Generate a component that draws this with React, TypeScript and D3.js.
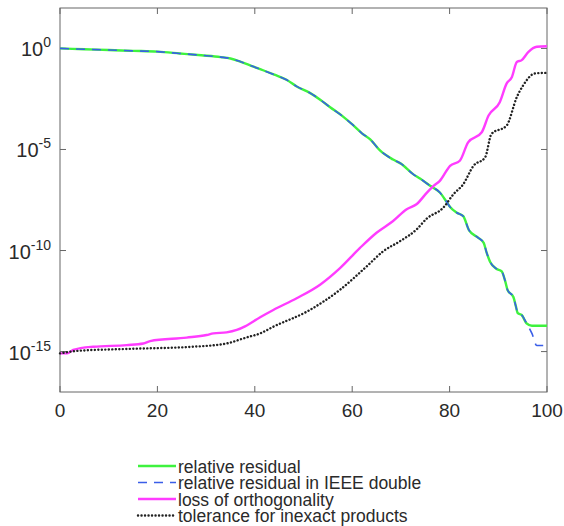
import React from 'react';
import * as d3 from 'd3';

// iteration numbers and log10 of each quantity
const residualX = [0, 5, 10, 15, 20, 24.6, 29, 33, 35, 37, 39.7, 41.7, 44, 46.5, 48.6, 51.3, 53.5, 55.4, 58, 60.2, 62, 63.7, 65.7, 68.4, 70, 72.5, 74, 76, 78, 79.4, 80.1, 81.5, 82.8, 84, 85.9, 87, 87.6, 88.3, 89.6, 90.7, 91.4, 91.9, 93.1, 93.6, 94, 94.8, 95.8, 96.9, 100];
const residualExp = [0, -0.04, -0.08, -0.12, -0.16, -0.25, -0.34, -0.43, -0.5, -0.65, -0.9, -1.08, -1.3, -1.55, -1.88, -2.2, -2.55, -2.9, -3.35, -3.8, -4.2, -4.5, -5.05, -5.5, -5.7, -6.22, -6.45, -6.8, -7.13, -7.6, -7.85, -8.13, -8.3, -9.0, -9.37, -9.62, -10.1, -10.55, -10.9, -11.03, -11.5, -11.95, -12.3, -12.75, -13.1, -13.19, -13.6, -13.72, -13.72];

const ieeeX = [0, 5, 10, 15, 20, 24.6, 29, 33, 35, 37, 39.7, 41.7, 44, 46.5, 48.6, 51.3, 53.5, 55.4, 58, 60.2, 62, 63.7, 65.7, 68.4, 70, 72.5, 74, 76, 78, 79.4, 80.1, 81.5, 82.8, 84, 85.9, 87, 87.6, 88.3, 89.6, 90.7, 91.4, 91.9, 93.1, 93.6, 94, 94.8, 95.8, 96.9, 97.9, 100];
const ieeeExp = [0, -0.04, -0.08, -0.12, -0.16, -0.25, -0.34, -0.43, -0.5, -0.65, -0.9, -1.08, -1.3, -1.55, -1.88, -2.2, -2.55, -2.9, -3.35, -3.8, -4.2, -4.5, -5.05, -5.5, -5.7, -6.22, -6.45, -6.8, -7.13, -7.6, -7.85, -8.13, -8.3, -9.0, -9.37, -9.62, -10.1, -10.55, -10.9, -11.03, -11.5, -11.95, -12.3, -12.75, -13.1, -13.19, -13.6, -14.1, -14.7, -14.7];

const orthoX = [0, 1.5, 2.7, 6.8, 13.7, 17.1, 18.5, 26, 30.1, 31.5, 34.2, 36.3, 38, 41.1, 43.8, 48.6, 53.4, 57.5, 61.6, 65, 68.4, 71.2, 73.2, 75.3, 76.7, 78, 80.1, 82.1, 83.8, 86.6, 88, 90.3, 91.7, 92.8, 93.8, 94.8, 96.2, 97.9, 100];
const orthoExp = [-15.09, -15.09, -14.92, -14.76, -14.68, -14.6, -14.48, -14.31, -14.18, -14.1, -14.05, -13.93, -13.75, -13.3, -12.94, -12.36, -11.69, -10.87, -9.87, -9.12, -8.54, -7.96, -7.71, -7.15, -6.8, -6.55, -5.81, -5.56, -4.65, -4.15, -3.32, -2.66, -1.74, -1.41, -0.67, -0.58, -0.17, 0.08, 0.11];

const tolX = [0, 3.4, 13.7, 27.4, 34.2, 37, 38.3, 41.1, 43.8, 50.7, 57.5, 63, 66.4, 69.8, 73.2, 75.3, 78.7, 80.8, 82.8, 84.9, 87.3, 88.6, 91.7, 93.8, 95.1, 97.5, 99.6, 100];
const tolExp = [-15.09, -14.97, -14.87, -14.76, -14.6, -14.4, -14.3, -14.1, -13.77, -13.02, -11.94, -10.78, -10.03, -9.54, -8.96, -8.42, -7.88, -7.21, -6.72, -5.81, -5.39, -4.23, -3.82, -2.41, -1.83, -1.24, -1.21, -1.21];

const xTicks = [0, 20, 40, 60, 80, 100];
const yTickExps = [0, -5, -10, -15];
const legendLabels = ['relative residual', 'relative residual in IEEE double', 'loss of orthogonality', 'tolerance for inexact products'];

const W = 564, H = 526;
const left = 60, right = 547, top = 8, bottom = 392;

const x = d3.scaleLinear().domain([0, 100]).range([left, right]);
const y = d3.scaleLog().domain([1e-17, 1e2]).range([bottom, top]);

const toPts = (xs: number[], es: number[]) => xs.map((v, i) => [v, Math.pow(10, es[i])] as [number, number]);

const line = d3.line<[number, number]>()
  .x(d => x(d[0]))
  .y(d => y(d[1]))
  .curve(d3.curveMonotoneX);

const series = [
  { pts: toPts(residualX, residualExp), stroke: '#3ef23e', width: 2.4, dash: undefined as string | undefined, cap: 'butt' },
  { pts: toPts(ieeeX, ieeeExp), stroke: '#3a5ee8', width: 1.6, dash: '9,7', cap: 'butt' },
  { pts: toPts(orthoX, orthoExp), stroke: '#ff3cff', width: 2.4, dash: undefined, cap: 'butt' },
  { pts: toPts(tolX, tolExp), stroke: '#222', width: 2.4, dash: '0.1,3.4', cap: 'round' },
];

const font = 'Liberation Sans, Arial, Helvetica, sans-serif';
const axisColor = '#666';
const textColor = '#2a2a2a';

export default function App() {
  return (
    <>
      <style>{`body{margin:0}`}</style>
      <svg width={W} height={H} style={{ display: 'block', background: '#fff' }} fontFamily={font}>
        {/* frame */}
        <rect x={left} y={top} width={right - left} height={bottom - top} fill="none" stroke={axisColor} strokeWidth={1} />
        {/* x ticks */}
        {xTicks.map(t => (
          <g key={'x' + t}>
            <line x1={x(t)} x2={x(t)} y1={bottom} y2={bottom - 6} stroke={axisColor} />
            <line x1={x(t)} x2={x(t)} y1={top} y2={top + 6} stroke={axisColor} />
            <text x={x(t)} y={bottom + 25} textAnchor="middle" fontSize={19} fill={textColor}>{t}</text>
          </g>
        ))}
        {/* y ticks */}
        {yTickExps.map(e => (
          <g key={'y' + e}>
            <line x1={left} x2={left + 6} y1={y(Math.pow(10, e))} y2={y(Math.pow(10, e))} stroke={axisColor} />
            <line x1={right} x2={right - 6} y1={y(Math.pow(10, e))} y2={y(Math.pow(10, e))} stroke={axisColor} />
            <text x={left - 9} y={y(Math.pow(10, e)) + 8} textAnchor="end" fontSize={20} fill={textColor}>
              10<tspan fontSize={14} dy={-9}>{e}</tspan>
            </text>
          </g>
        ))}
        {/* curves */}
        <g>
          {series.map((s, i) => (
            <path key={i} d={line(s.pts) || ''} fill="none" stroke={s.stroke} strokeWidth={s.width}
              strokeDasharray={s.dash} strokeLinecap={s.cap as any} strokeLinejoin="round" />
          ))}
        </g>
        {/* legend */}
        {legendLabels.map((lab, i) => {
          const ly = 466 + i * 16.5;
          const s = series[i];
          return (
            <g key={lab}>
              <line x1={138} x2={176} y1={ly} y2={ly} stroke={s.stroke} strokeWidth={s.width}
                strokeDasharray={s.dash} strokeLinecap={s.cap as any} />
              <text x={178} y={ly + 6.5} fontSize={17.5} fill={textColor}>{lab}</text>
            </g>
          );
        })}
      </svg>
    </>
  );
}
